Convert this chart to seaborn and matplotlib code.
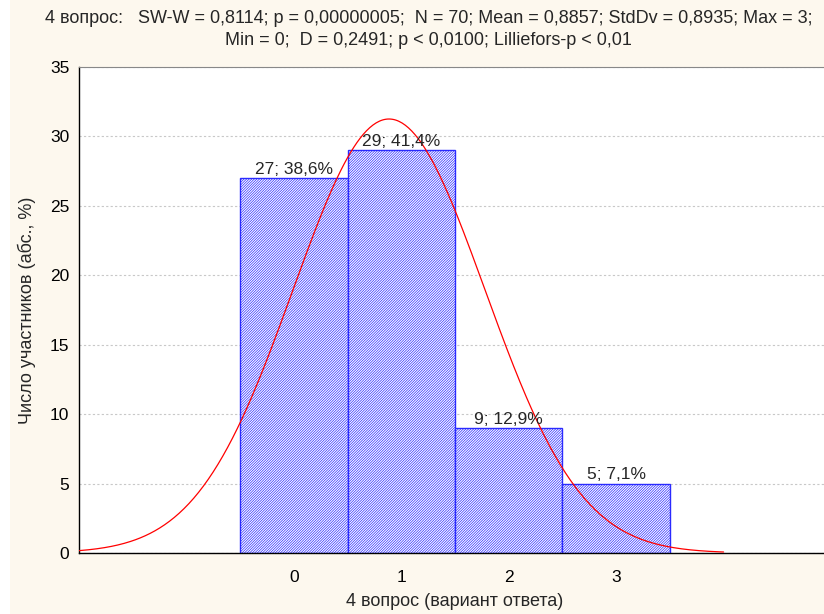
import numpy as np
import pandas as pd
import matplotlib
matplotlib.use("Agg")
import matplotlib.pyplot as plt
import seaborn as sns

# answer options and how many participants picked each
options = [0, 1, 2, 3]
counts = [27, 29, 9, 5]
# stats printed in the title (used for the fitted normal curve)
n_total = 70
mean_val = 0.8857
std_val = 0.8935

title = ("4 вопрос:   SW-W = 0,8114; p = 0,00000005;  N = 70; Mean = 0,8857; StdDv = 0,8935; Max = 3;\n"
         "Min = 0;  D = 0,2491; p < 0,0100; Lilliefors-p < 0,01")

sns.set_style("white")
plt.rcParams['font.family'] = ['Liberation Sans', 'DejaVu Sans']
plt.rcParams['hatch.linewidth'] = 0.5

df = pd.DataFrame({'option': options, 'count': counts})

fig = plt.figure(figsize=(8.24, 6.14), dpi=100, facecolor='#fdf8ee')
# white strip at the left edge of the screenshot
fig.patches.append(plt.Rectangle((0, 0), 10 / 824, 1, transform=fig.transFigure,
                                 facecolor='white', edgecolor='none', zorder=-1))
ax = fig.add_axes([79 / 824, 1 - 553 / 614, 752 / 824, (553 - 67) / 614])
ax.set_facecolor('white')

sns.barplot(data=df, x='option', y='count', native_scale=True, width=1,
            color='white', edgecolor='#2222ff', linewidth=1.0, saturation=1, ax=ax, zorder=2)
for p in ax.patches:
    p.set_hatch('/' * 13)
    p.set_facecolor('white')
    p.set_edgecolor('#2a2aff')

for x, c in zip(options, counts):
    pct = f"{c / n_total * 100:.1f}".replace('.', ',')
    ax.text(x, c + 0.1, f"{c}; {pct}%", ha='center', va='bottom', fontsize=12.5, zorder=4)

# fitted normal curve, scaled to counts (bin width 1)
xs = np.linspace(-2, 4, 400)
ys = n_total / (std_val * np.sqrt(2 * np.pi)) * np.exp(-0.5 * ((xs - mean_val) / std_val) ** 2)
sns.lineplot(x=xs, y=ys, color='red', linewidth=0.9, ax=ax, zorder=3)

ax.set_xlim(-2, 5)
ax.set_ylim(0, 35)
ax.set_xticks([-1, 0, 1, 2, 3, 4])
ax.set_xticklabels(['', '0', '1', '2', '3', ''])
ax.set_yticks(range(0, 36, 5))
ax.tick_params(axis='both', direction='in', length=4, labelsize=12.5, colors='black')
ax.tick_params(axis='x', pad=12)
ax.tick_params(axis='y', pad=7)
ax.yaxis.grid(True, linestyle=(0, (2, 2)), color='#c8c8c8', linewidth=0.8)
ax.set_axisbelow(True)
for s in ['left', 'bottom']:
    ax.spines[s].set_color('black')
    ax.spines[s].set_linewidth(1.0)
ax.spines['top'].set_color('#888888')
ax.spines['top'].set_linewidth(0.8)
ax.spines['right'].set_visible(False)

ax.set_xlabel('4 вопрос (вариант ответа)', fontsize=13, labelpad=6)
ax.set_ylabel('Число участников (абс., %)', fontsize=13, labelpad=10)
fig.text(0.52, 1 - 10 / 614, title, ha='center', va='top', fontsize=13, linespacing=1.35)

fig.savefig('out.png', dpi=100, facecolor=fig.get_facecolor())
